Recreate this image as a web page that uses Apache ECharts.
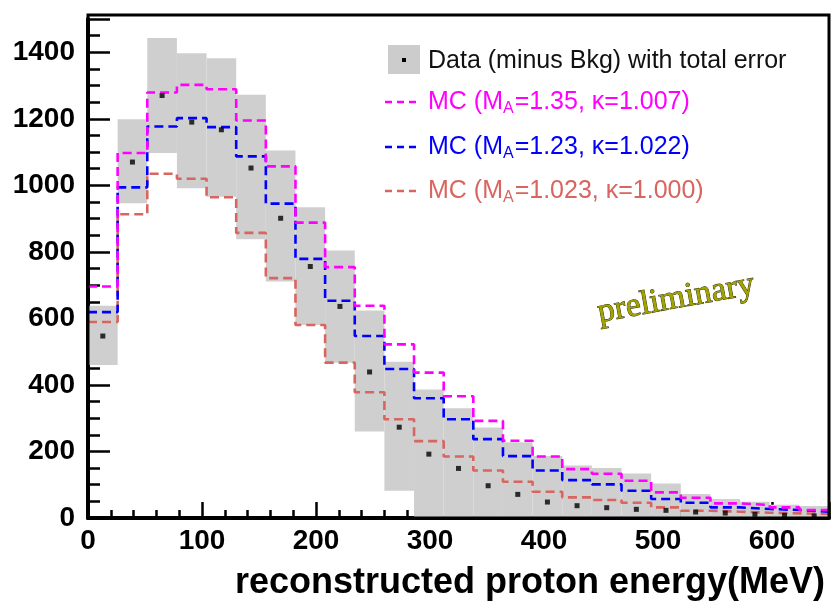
<!DOCTYPE html>
<html><head><meta charset="utf-8">
<script src="https://cdn.jsdelivr.net/npm/echarts@6/dist/echarts.min.js"></script>
<style>html,body{margin:0;padding:0;background:#fff}#c{width:832px;height:601px}</style>
</head><body><div id="c"></div>
<script>
// Histogram binning (MeV)
const binWidth = 26;
const xMax = 650;
const yMax = 1500;
const xTicks = [0, 100, 200, 300, 400, 500, 600];
const yTicks = [0, 200, 400, 600, 800, 1000, 1200, 1400];

// Data (minus Bkg): central values and total-error band per bin
const dataCentral = [547, 1070, 1270, 1190, 1167, 1052, 901, 756, 636, 439, 273, 192, 149, 97, 71, 48, 37, 31, 26, 23, 18, 15, 11, 8, 6];
const errLow  = [460, 946, 1097, 991, 966, 838, 711, 580, 467, 260, 82, 0, 0, 0, 0, 0, 0, 0, 0, 0, 0, 0, 0, 0, 0];
const errHigh = [638, 1199, 1443, 1397, 1382, 1272, 1105, 934, 804, 624, 470, 386, 330, 272, 228, 186, 158, 150, 134, 104, 72, 57, 49, 40, 36];

// MC predictions per bin
const mcA = [696, 1097, 1279, 1302, 1289, 1195, 1057, 888, 754, 638, 522, 437, 366, 292, 232, 185, 147, 133, 112, 77, 61, 44, 39, 32, 24];  // MA=1.35, k=1.007
const mcB = [619, 994, 1177, 1202, 1175, 1087, 945, 779, 653, 547, 448, 360, 297, 237, 186, 143, 114, 101, 82, 57, 46, 32, 27, 24, 19];      // MA=1.23, k=1.022
const mcC = [589, 913, 1035, 1020, 964, 857, 721, 580, 467, 378, 297, 231, 185, 143, 109, 79, 62, 54, 46, 32, 22, 19, 16, 14, 12];          // MA=1.023, k=1.000

const colA = '#ff00ff', colB = '#0000ff', colC = '#d8655f';
const FONT = "'Liberation Sans', Arial, Helvetica, sans-serif";

function stepPoints(vals) {
  const pts = [];
  vals.forEach((v, i) => { pts.push([i * binWidth, v]); pts.push([(i + 1) * binWidth, v]); });
  return pts;
}
function stepSeries(vals, color, name) {
  return {
    type: 'line', name: name, data: stepPoints(vals), symbol: 'none', z: 5,
    lineStyle: { color: color, width: 2.6, type: [9, 5] }, animation: false
  };
}

const chart = echarts.init(document.getElementById('c'), null, { renderer: 'canvas' });
const option = {
  animation: false,
  grid: { left: 88, right: 3, top: 19, bottom: 83, show: false },
  xAxis: {
    type: 'value', min: 0, max: xMax, interval: 100,
    axisLine: { show: true, onZero: false, lineStyle: { color: '#000', width: 4 } },
    axisTick: { show: true, inside: true, length: 16, lineStyle: { color: '#000', width: 2.5 } },
    minorTick: { show: true, splitNumber: 5, length: 8, lineStyle: { color: '#000', width: 2.5 } },
    splitLine: { show: false },
    axisLabel: {
      margin: 9, color: '#000', fontFamily: FONT, fontWeight: 'bold', fontSize: 28,
      showMaxLabel: false,
      formatter: v => (xTicks.indexOf(v) >= 0 ? String(v) : '')
    },
    name: 'reconstructed proton energy(MeV)', nameLocation: 'end', nameGap: -4,
    nameTextStyle: { color: '#000', fontFamily: FONT, fontWeight: 'bold', fontSize: 36,
      align: 'right', verticalAlign: 'top', padding: [47, 0, 0, 0] }
  },
  yAxis: {
    type: 'value', min: 0, max: yMax, interval: 200,
    axisLine: { show: true, lineStyle: { color: '#000', width: 4 } },
    axisTick: { show: true, inside: true, length: 22, lineStyle: { color: '#000', width: 2.5 } },
    minorTick: { show: true, splitNumber: 4, length: 12, lineStyle: { color: '#000', width: 2.5 } },
    splitLine: { show: false },
    axisLabel: {
      margin: 13, color: '#000', fontFamily: FONT, fontWeight: 'bold', fontSize: 28,
      formatter: v => (yTicks.indexOf(v) >= 0 ? String(v) : '')
    }
  },
  series: [
    {
      type: 'custom', name: 'Data (minus Bkg) with total error', z: 2,
      data: errLow.map((lo, i) => [i * binWidth, (i + 1) * binWidth, lo, errHigh[i]]),
      encode: { x: [0, 1], y: [2, 3] },
      renderItem: function (params, api) {
        const p0 = api.coord([api.value(0), api.value(3)]);
        const p1 = api.coord([api.value(1), api.value(2)]);
        return { type: 'rect', shape: { x: p0[0], y: p0[1], width: p1[0] - p0[0], height: p1[1] - p0[1] },
                 style: { fill: '#cfcfcf' } };
      }
    },
    stepSeries(mcC, colC, 'MC (MA=1.023, k=1.000)'),
    stepSeries(mcB, colB, 'MC (MA=1.23, k=1.022)'),
    stepSeries(mcA, colA, 'MC (MA=1.35, k=1.007)'),
    {
      type: 'scatter', name: 'Data points', z: 6, symbol: 'rect', symbolSize: 5,
      itemStyle: { color: '#000' },
      data: dataCentral.map((v, i) => [(i + 0.5) * binWidth, v])
    }
  ],
  graphic: [
    // frame
    { type: 'rect', z: 100, silent: true, shape: { x: 88, y: 15, width: 741, height: 503 },
      style: { fill: 'none', stroke: '#000', lineWidth: 3 } },
    // legend
    { type: 'rect', z: 50, shape: { x: 388, y: 45, width: 32, height: 29 }, style: { fill: '#cccccc' } },
    { type: 'rect', z: 51, shape: { x: 402, y: 58, width: 4, height: 4 }, style: { fill: '#000' } },
    { type: 'text', z: 51, x: 428, y: 61, style: { text: 'Data (minus Bkg) with total error', fill: '#111',
      font: '25px ' + FONT, verticalAlign: 'middle', align: 'left' } },
    { type: 'line', z: 51, shape: { x1: 385, y1: 102, x2: 421, y2: 102 }, style: { stroke: colA, lineWidth: 2.6, lineDash: [7, 5] } },
    { type: 'line', z: 51, shape: { x1: 385, y1: 147, x2: 421, y2: 147 }, style: { stroke: colB, lineWidth: 2.6, lineDash: [7, 5] } },
    { type: 'line', z: 51, shape: { x1: 385, y1: 191, x2: 421, y2: 191 }, style: { stroke: colC, lineWidth: 2.6, lineDash: [7, 5] } },
    ...[['MC (M{s|A}=1.35, κ=1.007)', colA, 102], ['MC (M{s|A}=1.23, κ=1.022)', colB, 147], ['MC (M{s|A}=1.023, κ=1.000)', colC, 191]]
      .map(([t, c, y]) => ({
        type: 'text', z: 51, x: 428, y: y,
        style: { text: t, fill: c, fontFamily: FONT, fontSize: 25, lineHeight: 30, verticalAlign: 'middle', align: 'left',
          rich: { s: { fill: c, fontFamily: FONT, fontSize: 16, lineHeight: 30, verticalAlign: 'bottom', padding: [14, 1, 0, 0] } } }
      })),
    // preliminary watermark
    { type: 'text', z: 60, x: 676, y: 299, rotation: 0.18,
      style: { text: 'preliminary', fill: '#a3a300', fontFamily: "'Liberation Serif', 'DejaVu Serif', serif", fontSize: 34,
        stroke: '#2a2a00', lineWidth: 0.9,
        align: 'center', verticalAlign: 'middle', textShadowColor: '#000', textShadowOffsetX: 1, textShadowOffsetY: 1, textShadowBlur: 0 } }
  ]
};
chart.setOption(option);
</script>
</body></html>
